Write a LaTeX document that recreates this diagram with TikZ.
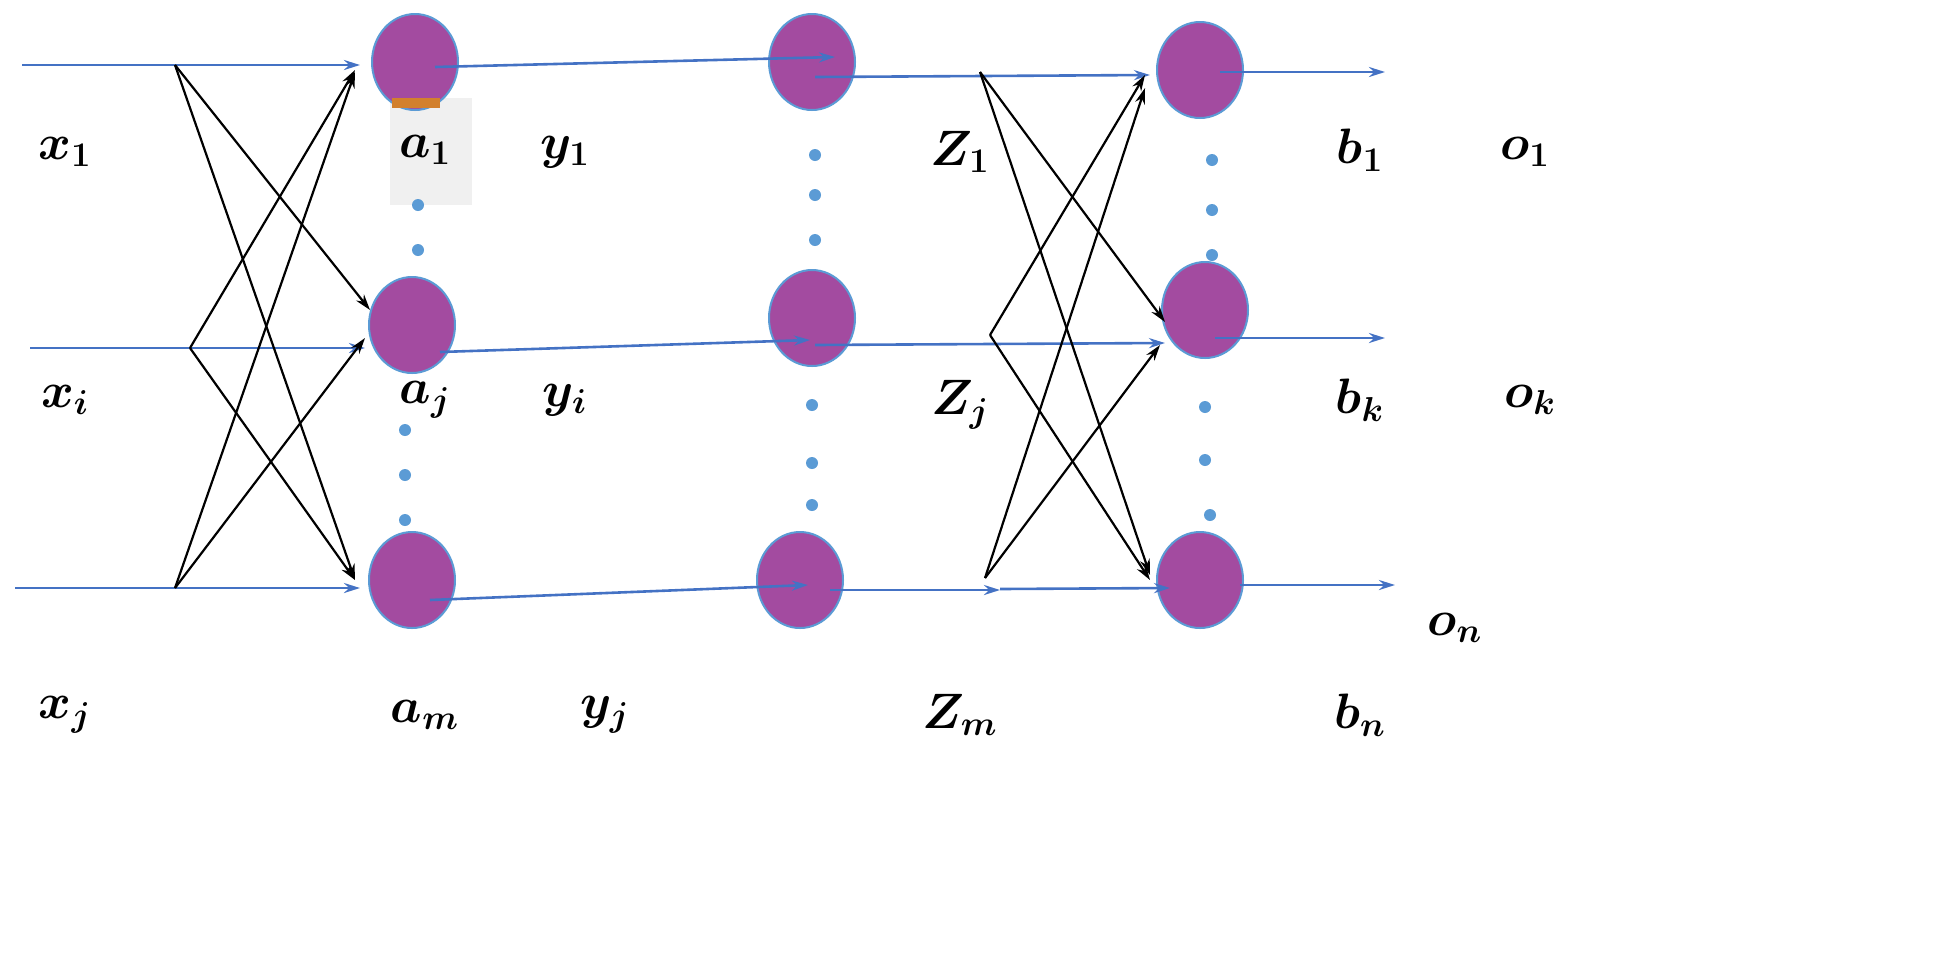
\documentclass[tikz,border=0pt]{standalone}
\usepackage{amsmath,bm}
\usetikzlibrary{arrows.meta,shapes.geometric}
\definecolor{pur}{HTML}{A34BA0}
\definecolor{bl}{HTML}{4472C4}
\definecolor{dotc}{HTML}{5B9BD5}
\begin{document}
\begin{tikzpicture}[x=0.5pt,y=-0.5pt,
 neu/.style={ellipse,fill=pur,draw=dotc,line width=1pt,minimum width=43pt,minimum height=48pt,inner sep=0pt},
 bla/.style={-{Stealth[length=8pt,width=5pt]},line width=1.3pt,bl},
 blk/.style={-{Stealth[length=8pt,width=5pt]},line width=1.1pt,black},
 dt/.style={circle,fill=dotc,minimum size=6pt,inner sep=0pt},
 lab/.style={font=\fontsize{27}{30}\selectfont}]
\useasboundingbox (0,0) rectangle (1936,960);
\fill[gray!12] (390,98) rectangle (472,205);
\node[neu] (a1) at (415,62) {};
\fill[brown!70!orange] (392,98) rectangle (440,108);
\node[neu] (aj) at (412,325) {};
\node[neu] (am) at (412,580) {};
\node[neu] (c1) at (812,62) {};
\node[neu] (cj) at (812,318) {};
\node[neu] (cm) at (800,580) {};
\node[neu] (b1) at (1200,70) {};
\node[neu] (bk) at (1205,310) {};
\node[neu] (bn) at (1200,580) {};
\coordinate (i1) at (22,65); \coordinate (s1) at (175,65); \coordinate (e1) at (360,65);
\coordinate (i2) at (30,348); \coordinate (s2) at (190,348); \coordinate (e2) at (365,348);
\coordinate (i3) at (15,588); \coordinate (s3) at (175,588); \coordinate (e3) at (360,588);
\draw[bla] (i1)--(e1); \draw[bla] (i2)--(e2); \draw[bla] (i3)--(e3);
\draw[blk] (s1)--(370,310); \draw[blk] (s1)--(355,580);
\draw[blk] (s2)--(355,70); \draw[blk] (s2)--(355,580);
\draw[blk] (s3)--(355,72); \draw[blk] (s3)--(365,338);
\draw[bla] (435,67)--(835,57);
\draw[bla] (440,352)--(810,340);
\draw[bla] (430,600)--(808,585);
\draw[bla] (815,77)--(1150,75);
\draw[bla] (815,345)--(1165,343);
\draw[bla] (830,590)--(1000,590);
\draw[bla] (1000,589)--(1170,588);
\draw[blk] (980,72)--(1165,322); \draw[blk] (980,72)--(1150,575);
\draw[blk] (990,335)--(1145,75); \draw[blk] (990,335)--(1150,580);
\draw[blk] (985,578)--(1145,88); \draw[blk] (985,578)--(1160,345);
\coordinate (o1) at (1385,72); \coordinate (ok) at (1385,338); \coordinate (on) at (1395,585);
\draw[bla] (1220,72)--(o1); \draw[bla] (1215,338)--(ok); \draw[bla] (1240,585)--(on);
\foreach \x/\y [count=\i] in {418/205,418/250,405/430,405/475,405/520,815/155,815/195,815/240,812/405,812/463,812/505,1212/160,1212/210,1212/255,1205/407,1205/460,1210/515}
 \node[dt] (d\i) at (\x,\y) {};
\node[lab] (lx1) at (65,152) {$\bm{x_1}$};
\node[lab] (lxi) at (65,400) {$\bm{x_i}$};
\node[lab] (lxj) at (65,715) {$\bm{x_j}$};
\node[lab] (la1) at (425,150) {$\bm{a_1}$};
\node[lab] (laj) at (425,400) {$\bm{a_j}$};
\node[lab] (lam) at (425,715) {$\bm{a_m}$};
\node[lab] (ly1) at (565,152) {$\bm{y_1}$};
\node[lab] (lyi) at (565,400) {$\bm{y_i}$};
\node[lab] (lyj) at (605,715) {$\bm{y_j}$};
\node[lab] (lz1) at (960,152) {$\bm{Z_1}$};
\node[lab] (lzj) at (960,405) {$\bm{Z_j}$};
\node[lab] (lzm) at (960,715) {$\bm{Z_m}$};
\node[lab] (lb1) at (1360,150) {$\bm{b_1}$};
\node[lab] (lbk) at (1360,400) {$\bm{b_k}$};
\node[lab] (lbn) at (1360,715) {$\bm{b_n}$};
\node[lab] (lo1) at (1525,152) {$\bm{o_1}$};
\node[lab] (lok) at (1530,400) {$\bm{o_k}$};
\node[lab] (lon) at (1455,628) {$\bm{o_n}$};
\end{tikzpicture}
\end{document}
